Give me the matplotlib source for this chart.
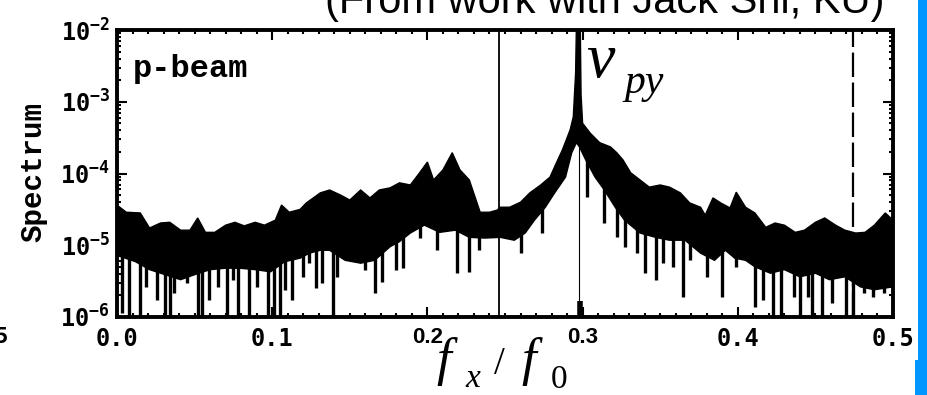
import numpy as np
import matplotlib.pyplot as plt
from matplotlib.patches import Rectangle
from matplotlib.ticker import LogFormatterMathtext, LogLocator, MultipleLocator, FormatStrFormatter

# p-beam spectrum: upper/lower edges of the noise band (log10 of spectrum)
upper_f = [0.000, 0.006, 0.015, 0.021, 0.028, 0.034, 0.041, 0.047, 0.052, 0.057,
           0.063, 0.070, 0.076, 0.082, 0.089, 0.095, 0.102, 0.106, 0.111, 0.118,
           0.122, 0.131, 0.137, 0.144, 0.150, 0.157, 0.163, 0.169, 0.176, 0.182,
           0.189, 0.195, 0.200, 0.204, 0.210, 0.216, 0.221, 0.227, 0.234, 0.240,
           0.245, 0.247, 0.253, 0.260, 0.266, 0.273, 0.279, 0.284, 0.287, 0.292,
           0.294, 0.2955, 0.296, 0.2985, 0.299, 0.300, 0.305, 0.311, 0.318, 0.322,
           0.326, 0.331, 0.337, 0.343, 0.350, 0.356, 0.363, 0.369, 0.376, 0.379,
           0.384, 0.389, 0.395, 0.399, 0.405, 0.411, 0.418, 0.424, 0.430, 0.437,
           0.443, 0.450, 0.456, 0.463, 0.469, 0.476, 0.482, 0.488, 0.495, 0.500]
upper_log = [-4.44, -4.54, -4.55, -4.76, -4.69, -4.68, -4.79, -4.79, -4.62, -4.82,
             -4.82, -4.72, -4.68, -4.73, -4.68, -4.72, -4.65, -4.44, -4.54, -4.50,
             -4.41, -4.27, -4.23, -4.30, -4.37, -4.23, -4.34, -4.23, -4.20, -4.13,
             -4.16, -3.99, -3.84, -4.09, -3.95, -3.71, -3.95, -4.09, -4.54, -4.54,
             -4.51, -4.47, -4.47, -4.40, -4.27, -4.16, -4.05, -3.81, -3.67, -3.39,
             -3.21, -2.60, -1.95, -1.95, -2.90, -3.30, -3.44, -3.57, -3.63, -3.71,
             -3.81, -3.99, -4.09, -4.19, -4.16, -4.19, -4.27, -4.41, -4.47, -4.58,
             -4.34, -4.41, -4.48, -4.26, -4.47, -4.55, -4.75, -4.69, -4.72, -4.82,
             -4.79, -4.68, -4.62, -4.72, -4.79, -4.83, -4.82, -4.72, -4.55, -4.65]

lower_f = [0.000, 0.012, 0.021, 0.031, 0.041, 0.050, 0.060, 0.070, 0.079, 0.089,
           0.099, 0.108, 0.118, 0.124, 0.131, 0.137, 0.147, 0.157, 0.166, 0.176,
           0.182, 0.189, 0.198, 0.208, 0.218, 0.227, 0.237, 0.247, 0.256, 0.263,
           0.269, 0.276, 0.282, 0.289, 0.293, 0.296, 0.298, 0.302, 0.308, 0.314,
           0.321, 0.327, 0.337, 0.347, 0.356, 0.366, 0.376, 0.385, 0.392, 0.398,
           0.405, 0.411, 0.421, 0.430, 0.440, 0.450, 0.459, 0.469, 0.479, 0.488,
           0.500]
lower_log = [-5.14, -5.23, -5.34, -5.41, -5.48, -5.41, -5.34, -5.32, -5.32, -5.34,
             -5.37, -5.23, -5.18, -5.11, -5.07, -5.07, -5.21, -5.25, -5.21, -5.02,
             -4.95, -4.83, -4.72, -4.82, -4.79, -4.89, -4.90, -4.89, -4.93, -4.83,
             -4.65, -4.47, -4.27, -4.05, -3.71, -3.57, -3.63, -3.81, -4.05, -4.23,
             -4.47, -4.65, -4.83, -4.89, -4.93, -4.93, -5.11, -5.21, -5.07, -5.18,
             -5.21, -5.30, -5.39, -5.34, -5.44, -5.39, -5.48, -5.44, -5.58, -5.62,
             -5.58]

# deep dips below the band
spike_f = [0.003, 0.008, 0.015, 0.019, 0.026, 0.031, 0.034, 0.037, 0.045, 0.052,
           0.055, 0.059, 0.065, 0.071, 0.075, 0.078, 0.085, 0.090, 0.097, 0.101,
           0.105, 0.108, 0.113, 0.120, 0.124, 0.128, 0.132, 0.139, 0.142, 0.160,
           0.166, 0.171, 0.180, 0.184, 0.195, 0.206, 0.219, 0.227, 0.233, 0.260,
           0.274, 0.303, 0.314, 0.322, 0.327, 0.335, 0.340, 0.347, 0.352, 0.358,
           0.365, 0.369, 0.380, 0.390, 0.399, 0.411, 0.416, 0.423, 0.428, 0.436,
           0.440, 0.445, 0.448, 0.454, 0.461, 0.470, 0.474, 0.481, 0.487, 0.494]
spike_log = [-5.94, -6.0, -6.0, -5.58, -5.76, -6.0, -6.0, -5.67, -5.53, -6.0,
             -6.0, -5.76, -5.58, -6.0, -5.48, -6.0, -6.0, -5.58, -6.0, -6.0,
             -6.0, -5.62, -5.76, -5.44, -5.25, -5.60, -5.53, -6.0, -5.44, -5.34,
             -5.67, -5.51, -5.34, -5.32, -4.90, -5.07, -5.39, -5.37, -5.07, -5.11,
             -4.83, -4.33, -4.69, -4.89, -5.02, -5.11, -5.39, -5.48, -5.25, -5.30,
             -5.72, -5.21, -5.44, -5.72, -5.30, -5.86, -5.76, -6.0, -6.0, -5.72,
             -6.0, -5.72, -6.0, -6.0, -5.80, -6.0, -6.0, -5.67, -5.72, -5.67]

# reference tune lines
line_solid = 0.246
line_peak = 0.2975
line_dashed = 0.474

x_ticks = [0.0, 0.1, 0.2, 0.3, 0.4, 0.5]

plt.rcParams['font.weight'] = 'bold'
plt.rcParams['mathtext.default'] = 'regular'

W, H = 928, 395
fig = plt.figure(figsize=(W / 100, H / 100), dpi=100)
ax = fig.add_axes([117 / W, 1 - 317 / H, 776 / W, 287 / H])

uf, ul = np.array(upper_f), np.array(upper_log)
lf, ll = np.array(lower_f), np.array(lower_log)
ax.fill(np.r_[uf, lf[::-1]], 10 ** np.r_[ul, ll[::-1]], color='black', lw=1.0)

sf = np.array(spike_f)
spike_top = np.interp(sf, lf, ll) + 0.05
ax.vlines(sf, 10 ** np.array(spike_log), 10 ** spike_top, color='black', lw=2.4)

ax.axvline(line_solid, color='black', lw=1.3)
ax.axvline(line_peak, color='black', lw=0.8)
ax.vlines([line_peak + 0.001], 1e-6, 10 ** -5.78, color='black', lw=4)
ax.axvline(line_dashed, color='black', lw=1.6, dashes=(11, 2.5))

ax.set_yscale('log')
ax.set_xlim(0, 0.5)
ax.set_ylim(1e-6, 1e-2)

ax.xaxis.set_major_locator(MultipleLocator(0.1))
ax.xaxis.set_minor_locator(MultipleLocator(0.01))
ax.xaxis.set_major_formatter(FormatStrFormatter('%.1f'))
ax.set_xticks(x_ticks)
ax.yaxis.set_major_locator(LogLocator(base=10, numticks=10))
ax.yaxis.set_minor_locator(LogLocator(base=10, subs=np.arange(2, 10), numticks=10))
ax.yaxis.set_major_formatter(LogFormatterMathtext())

ax.tick_params(which='both', direction='in', top=True, right=True, width=1.5,
               labelfontfamily='DejaVu Sans Mono')
ax.tick_params(which='major', length=7)
ax.tick_params(which='minor', length=3)
ax.tick_params(axis='x', labelsize=17, pad=7)
ax.tick_params(axis='y', labelsize=17, pad=5)
for sp in ax.spines.values():
    sp.set_linewidth(2.8)

fig.canvas.draw()
for lbl in ax.get_xticklabels():
    if lbl.get_text() in ('0.2', '0.3'):
        lbl.set_fontfamily('Liberation Sans')
        lbl.set_fontsize(16)

ax.text(0.02, 0.836, 'p-beam', transform=ax.transAxes, fontsize=23,
        family='Liberation Mono', weight='bold', ha='left', va='baseline')
fig.text(33 / W, 1 - 172 / H, 'Spectrum', rotation=90, fontsize=21,
         family='Liberation Mono', weight='bold', ha='center', va='center')
fig.text(8 / W, 1 - 337 / H, '5', fontsize=16, family='DejaVu Sans Mono',
         weight='bold', ha='right', va='center')

# slide annotations
fig.text(325 / W, 1 - 13 / H, '(From work with Jack Shi, KU)', fontsize=30,
         family='Liberation Sans', weight='normal', ha='left', va='baseline')
fig.text(586 / W, 1 - 77 / H, 'ν', fontsize=46, family='Liberation Serif',
         style='italic', weight='normal', ha='left', va='baseline')
fig.text(624 / W, 1 - 93 / H, 'py', fontsize=30, family='Liberation Serif',
         style='italic', weight='normal', ha='left', va='baseline')

serif = dict(family='Liberation Serif', weight='normal', ha='left', va='baseline')
fig.text(436 / W, 1 - 375 / H, 'f', fontsize=38, style='italic', **serif)
fig.text(465 / W, 1 - 387 / H, 'x', fontsize=24, style='italic', **serif)
fig.text(494 / W, 1 - 374 / H, '/', fontsize=28, **serif)
fig.text(521 / W, 1 - 375 / H, 'f', fontsize=38, style='italic', **serif)
fig.text(551 / W, 1 - 388 / H, '0', fontsize=24, **serif)

# blue slide edge
fig.patches.append(Rectangle((918 / W, 1 - 360 / H), 10 / W, 360 / H,
                             transform=fig.transFigure, color='#0096ff', lw=0))
fig.patches.append(Rectangle((915 / W, 0), 13 / W, 35 / H,
                             transform=fig.transFigure, color='#0096ff', lw=0))

fig.savefig('out.png', dpi=100)
